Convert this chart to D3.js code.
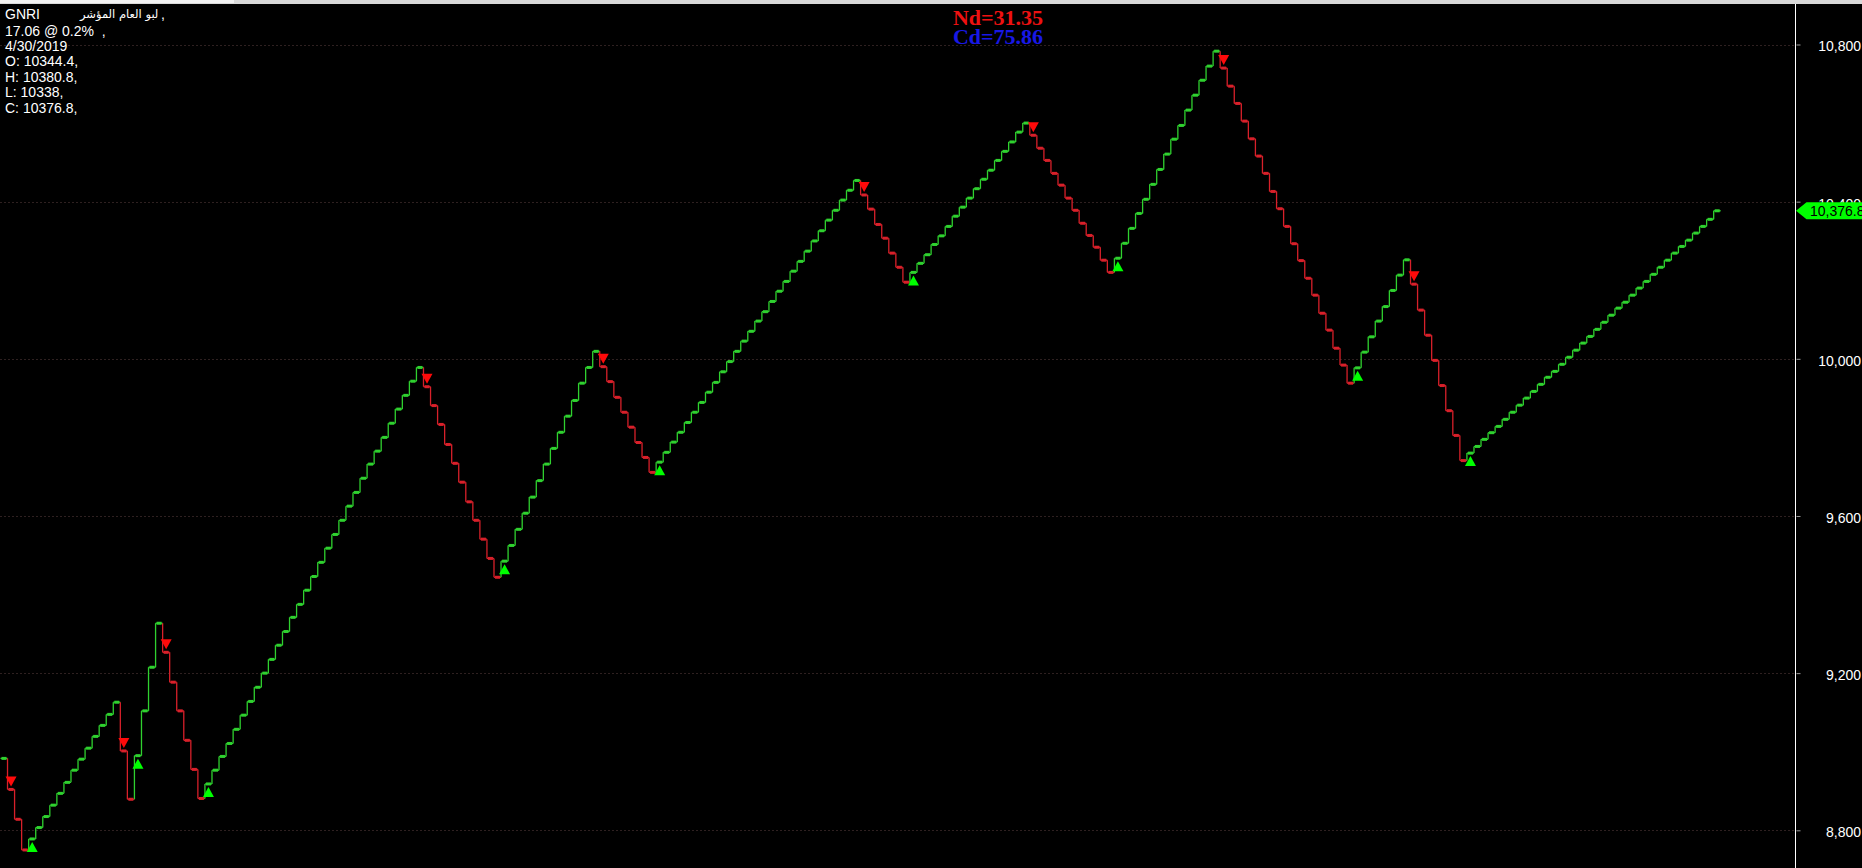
<!DOCTYPE html>
<html><head><meta charset="utf-8">
<script src="https://cdn.jsdelivr.net/npm/d3@7"></script>
<style>html,body{margin:0;padding:0;background:#000;overflow:hidden}</style>
</head><body>
<svg id="c" width="1862" height="868"></svg>
<script>
// ---- data ----
const values = [
 8983, 8904, 8828, 8750, 8778, 8807, 8835, 8864, 8894, 8922, 8953, 8981, 9009, 9039, 9067, 9095, 9126,
 9002, 8879,
 8990, 9104, 9215, 9327,
 9253, 9177, 9104, 9029, 8955, 8881,
 8918, 8953, 8988, 9021, 9057, 9093, 9128, 9164, 9200, 9235, 9271, 9306, 9342, 9375, 9411, 9446, 9482,
 9518, 9553, 9589, 9625, 9660, 9696, 9732, 9765, 9800, 9836, 9872, 9907, 9943, 9978,
 9929, 9881, 9833, 9782, 9734, 9686, 9636, 9589, 9541, 9492, 9444,
 9485, 9525, 9566, 9607, 9648, 9690, 9732, 9772, 9813, 9854, 9894, 9938, 9978, 10019,
 9980, 9942, 9902, 9864, 9826, 9787, 9749, 9711,
 9737, 9762, 9788, 9813, 9838, 9864, 9889, 9915, 9940, 9967, 9993, 10019, 10045, 10070, 10096, 10120,
 10146, 10172, 10197, 10223, 10248, 10274, 10300, 10326, 10353, 10378, 10404, 10429, 10454,
 10417, 10381, 10342, 10307, 10269, 10233, 10195,
 10220, 10243, 10265, 10291, 10313, 10337, 10363, 10386, 10409, 10433, 10457, 10480, 10505, 10528, 10552, 10577, 10600,
 10569, 10536, 10505, 10472, 10442, 10409, 10378, 10345, 10314, 10284, 10251, 10220,
 10256, 10294, 10332, 10370, 10406, 10444, 10482, 10521, 10559, 10594, 10633, 10671, 10709, 10745, 10783,
 10740, 10694, 10650, 10605, 10560, 10516, 10472, 10426, 10382, 10337, 10293, 10250, 10205, 10162, 10116, 10073, 10027, 9984, 9938,
 9977, 10017, 10056, 10096, 10133, 10174, 10213, 10252,
 10190, 10124, 10060, 9996, 9932, 9868, 9805, 9741,
 9760, 9777, 9795, 9812, 9828, 9846, 9864, 9882, 9900, 9917, 9935, 9953, 9968, 9986, 10004, 10022, 10040, 10057,
 10075, 10093, 10111, 10129, 10144, 10162, 10180, 10197, 10215, 10233, 10251, 10269, 10286, 10302, 10320, 10337, 10355, 10376.8
];
const yTicks = [8800, 9200, 9600, 10000, 10400, 10800];
const symbol = "GNRI";
const symbolName = "لبو العام المؤشر";
const infoLines = ["17.06 @ 0.2%  ,", "4/30/2019", "O: 10344.4,", "H: 10380.8,", "L: 10338,", "C: 10376.8,"];
const lastPrice = 10376.8;
const ndLabel = "Nd=31.35";
const cdLabel = "Cd=75.86";

// ---- layout ----
const W = 1862, H = 868;
const axisX = 1795.5;
const GREEN = "#2fd12f", RED = "#d8202a";
const svg = d3.select("#c");

const x = d3.scaleLinear().domain([0, values.length - 1]).range([4, 1717.2]);
const y = d3.scaleLinear().domain([8800, 10800]).range([830.3, 44.5]);
const half = (x(1) - x(0)) / 2;

svg.append("rect").attr("width", W).attr("height", H).attr("fill", "#000");
// top strip
svg.append("rect").attr("x", 0).attr("y", 0).attr("width", W).attr("height", 4).attr("fill", "#d9d9d9");
svg.append("rect").attr("x", 0).attr("y", 0).attr("width", 234).attr("height", 3).attr("fill", "#f2f2f2");

// gridlines
svg.append("g").selectAll("line").data(yTicks).join("line")
  .attr("x1", 0).attr("x2", axisX - 1)
  .attr("y1", d => Math.round(y(d)) + 0.5).attr("y2", d => Math.round(y(d)) + 0.5)
  .attr("stroke", "#2e2020").attr("stroke-dasharray", "2,2");

// series
const colorOf = i => (i === 0 || values[i] >= values[i - 1]) ? GREEN : RED;
const segs = [];
values.forEach((v, i) => {
  segs.push({x1: x(i) - half, x2: x(i) + half, y1: y(v), y2: y(v), c: colorOf(i)});
  if (i < values.length - 1) {
    segs.push({x1: x(i) + half, x2: x(i) + half, y1: y(v), y2: y(values[i + 1]), c: colorOf(i + 1)});
  }
});
svg.append("g").selectAll("line").data(segs).join("line")
  .attr("x1", d => d.x1).attr("x2", d => d.x2).attr("y1", d => d.y1).attr("y2", d => d.y2)
  .attr("stroke", d => d.c).attr("stroke-width", 1.3);

svg.append("g").selectAll("rect").data(values).join("rect")
  .attr("x", (d, i) => x(i) - 2.5).attr("y", d => y(d) - 1.5)
  .attr("width", 5).attr("height", 3)
  .attr("fill", (d, i) => colorOf(i));

// reversal triangles
const revs = values.map((v, i) => i).filter(i => i > 0 && colorOf(i) !== colorOf(i - 1));
svg.append("g").selectAll("path").data(revs).join("path")
  .attr("d", i => {
    const cx = x(i), cy = y(values[i]);
    if (colorOf(i) === RED) return `M${cx - 5.5},${cy - 13}L${cx + 5.5},${cy - 13}L${cx},${cy - 3}Z`;
    return `M${cx - 5.5},${cy + 13}L${cx + 5.5},${cy + 13}L${cx},${cy + 3}Z`;
  })
  .attr("fill", i => colorOf(i) === RED ? "#ff0a0a" : "#00ff00");

// axis
svg.append("line").attr("x1", axisX).attr("x2", axisX).attr("y1", 4).attr("y2", H)
  .attr("stroke", "#ffffff").attr("stroke-width", 1);
const ax = svg.append("g").attr("transform", `translate(${axisX},0)`)
  .call(d3.axisRight(y).tickValues(yTicks).tickSize(4).tickPadding(4).tickFormat(d3.format(",")));
ax.select(".domain").remove();
ax.selectAll(".tick line").attr("stroke", "#9a9a9a").attr("transform", "translate(1,0)");
ax.selectAll(".tick text")
  .attr("x", 1861 - axisX).attr("text-anchor", "end").attr("dy", "0.32em")
  .attr("transform", "translate(0,2)")
  .attr("fill", "#ffffff").attr("font-family", "Liberation Sans, Arial, sans-serif").attr("font-size", 14);

// last price tag
const py = y(lastPrice);
svg.append("path")
  .attr("d", `M${axisX + 0.5},${py}L${axisX + 11},${py - 8.5}L${W},${py - 8.5}L${W},${py + 8.5}L${axisX + 11},${py + 8.5}Z`)
  .attr("fill", "#00ff00");
svg.append("text").attr("x", 1810).attr("y", py).attr("dy", "0.36em")
  .attr("font-family", "Liberation Sans, Arial, sans-serif").attr("font-size", 14).attr("fill", "#000")
  .text(d3.format(",.1f")(lastPrice));

// info text
const font = "Liberation Sans, Arial, sans-serif";
svg.append("text").attr("x", 5).attr("y", 19).attr("fill", "#fff").attr("font-family", font).attr("font-size", 14).text(symbol);
svg.append("text").attr("x", 80).attr("y", 18).attr("fill", "#fff").attr("font-family", "DejaVu Sans, sans-serif")
  .attr("font-size", 11.5).attr("text-anchor", "start").text(symbolName);
svg.append("text").attr("x", 161).attr("y", 19).attr("fill", "#fff").attr("font-family", font).attr("font-size", 14).text(",");
svg.append("g").selectAll("text").data(infoLines).join("text")
  .attr("x", 5).attr("y", (d, i) => 35.5 + i * 15.4)
  .attr("fill", "#fff").attr("font-family", font).attr("font-size", 14)
  .attr("xml:space", "preserve").style("white-space", "pre").text(d => d);

// Nd / Cd
svg.append("text").attr("x", 998).attr("y", 25).attr("text-anchor", "middle")
  .attr("font-family", "Liberation Serif, Times New Roman, serif").attr("font-weight", "bold")
  .attr("font-size", 22).attr("fill", "#ee1111").text(ndLabel);
svg.append("text").attr("x", 998).attr("y", 43.5).attr("text-anchor", "middle")
  .attr("font-family", "Liberation Serif, Times New Roman, serif").attr("font-weight", "bold")
  .attr("font-size", 22).attr("fill", "#1818e6").text(cdLabel);
</script>
</body></html>
